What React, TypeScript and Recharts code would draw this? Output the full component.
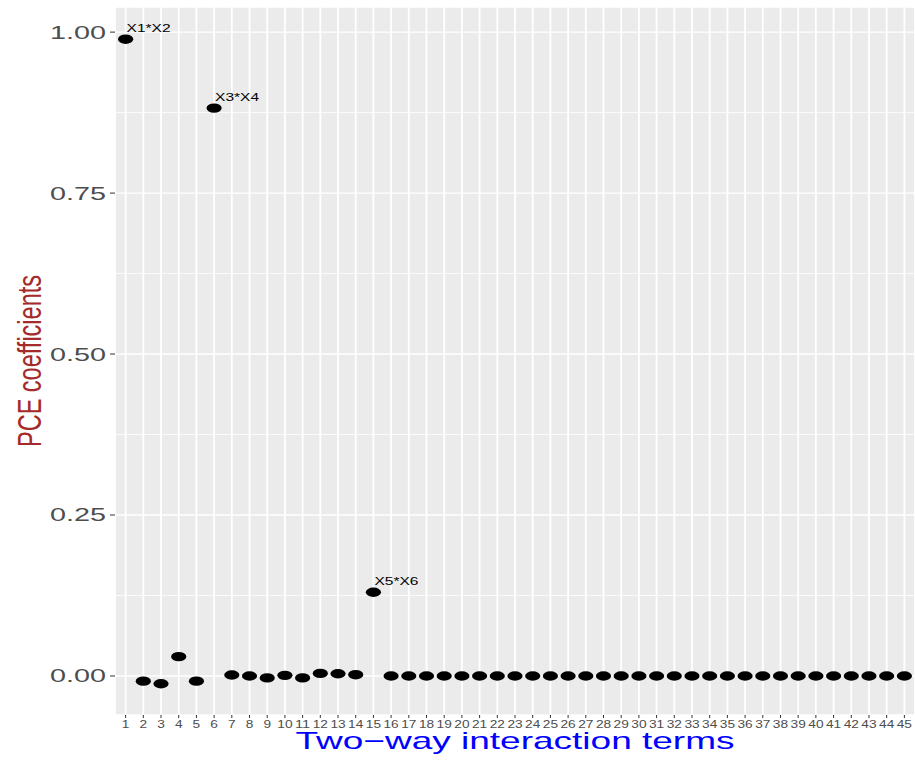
import React from 'react';
import { ScatterChart, Scatter, XAxis, YAxis, CartesianGrid, ReferenceLine, Label } from 'recharts';

const terms = [
  1, 2, 3, 4, 5, 6, 7, 8, 9, 10, 11, 12, 13, 14, 15, 16, 17, 18, 19, 20, 21, 22, 23,
  24, 25, 26, 27, 28, 29, 30, 31, 32, 33, 34, 35, 36, 37, 38, 39, 40, 41, 42, 43, 44, 45,
];
const coefficients = [
  0.989, -0.008, -0.012, 0.03, -0.008, 0.882, 0.0015, 0, -0.003, 0.001, -0.003, 0.004,
  0.0035, 0.002, 0.13, 0, 0, 0, 0, 0, 0, 0, 0, 0, 0, 0, 0, 0, 0, 0, 0, 0, 0, 0, 0, 0, 0,
  0, 0, 0, 0, 0, 0, 0, 0,
];
const labeledTerms = [1, 6, 15];
const labelTexts = ['X1*X2', 'X3*X4', 'X5*X6'];
const yTicks = [0, 0.25, 0.5, 0.75, 1];
const yMinorTicks = [0.125, 0.375, 0.625, 0.875];
const xDomain = [0.4, 45.6];
const yDomain = [-0.0606, 1.039];

const data = terms.map((t, i) => {
  const li = labeledTerms.indexOf(t);
  return { term: t, coef: coefficients[i], label: li >= 0 ? labelTexts[li] : '' };
});

const FONT = '"Liberation Sans", Arial, Helvetica, sans-serif';

const DotShape = (props: any) => {
  const { cx, cy, payload } = props;
  if (cx == null || cy == null) return null;
  return (
    <g>
      <ellipse cx={cx} cy={cy} rx={7.6} ry={4.7} fill="#000000" />
      {payload && payload.label ? (
        <text
          x={cx + 1}
          y={cy - 7}
          fontSize={11}
          fontFamily={FONT}
          fill="#000000"
          textLength={44}
          lengthAdjust="spacingAndGlyphs"
        >
          {payload.label}
        </text>
      ) : null}
    </g>
  );
};

const YTick = (props: any) => {
  const { x, y, payload } = props;
  return (
    <text
      x={x}
      y={y}
      dy="0.36em"
      textAnchor="end"
      fontSize={18}
      fontFamily={FONT}
      fill="#4D4D4D"
      textLength={56}
      lengthAdjust="spacingAndGlyphs"
    >
      {Number(payload.value).toFixed(2)}
    </text>
  );
};

const XTick = (props: any) => {
  const { x, y, payload } = props;
  const s = String(payload.value);
  return (
    <text
      x={x}
      y={y}
      dy="0.72em"
      textAnchor="middle"
      fontSize={10}
      fontFamily={FONT}
      fill="#4D4D4D"
      textLength={s.length * 7.6}
      lengthAdjust="spacingAndGlyphs"
    >
      {s}
    </text>
  );
};

export default function App() {
  return (
    <div style={{ position: 'absolute', left: 0, top: 0, width: 915, height: 762, background: '#FFFFFF' }}>
      <ScatterChart width={915} height={762} margin={{ top: 7, right: 0, bottom: 17, left: 55 }}>
        <CartesianGrid fill="#EBEBEB" stroke="#FFFFFF" strokeWidth={1.8} horizontal={false} />
        <CartesianGrid stroke="#FFFFFF" strokeWidth={1.4} vertical={false} />
        {yMinorTicks.map((v) => (
          <ReferenceLine key={v} y={v} stroke="#FFFFFF" strokeWidth={0.8} />
        ))}
        <XAxis
          type="number"
          dataKey="term"
          domain={xDomain}
          ticks={terms}
          interval={0}
          allowDataOverflow
          axisLine={false}
          tickLine={{ stroke: '#333333', strokeWidth: 1 }}
          tickSize={3}
          tickMargin={3}
          height={30}
          tick={<XTick />}
        >
          <Label
            content={() => (
              <text
                x={515}
                y={749}
                textAnchor="middle"
                fontSize={24}
                fontFamily={FONT}
                fill="#0000FF"
                textLength={439}
                lengthAdjust="spacingAndGlyphs"
              >
                Two−way interaction terms
              </text>
            )}
          />
        </XAxis>
        <YAxis
          type="number"
          dataKey="coef"
          domain={yDomain}
          ticks={yTicks}
          interval={0}
          allowDataOverflow
          axisLine={false}
          tickLine={{ stroke: '#333333', strokeWidth: 1 }}
          tickSize={5}
          tickMargin={4}
          width={60}
          tick={<YTick />}
        >
          <Label
            content={() => (
              <text
                x={41}
                y={361}
                transform="rotate(-90, 41, 361)"
                textAnchor="middle"
                fontSize={34}
                fontFamily={FONT}
                fill="#A52A2A"
                textLength={172}
                lengthAdjust="spacingAndGlyphs"
              >
                PCE coefficients
              </text>
            )}
          />
        </YAxis>
        <Scatter data={data} dataKey="coef" shape={<DotShape />} isAnimationActive={false} />
      </ScatterChart>
    </div>
  );
}
